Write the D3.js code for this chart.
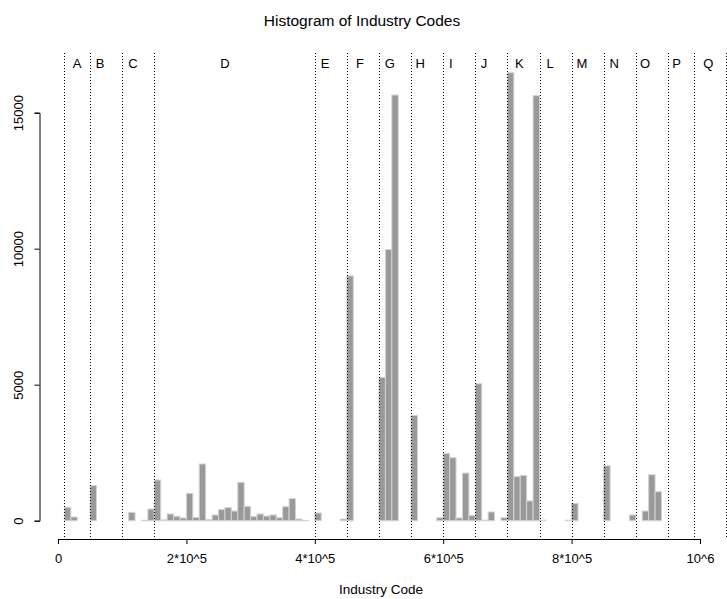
<!DOCTYPE html>
<html>
<head>
<meta charset="utf-8">
<script src="https://d3js.org/d3.v7.min.js"></script>
<style>
  body { margin: 0; background: #fff; }
  svg text { font-family: "Liberation Sans", Arial, Helvetica, sans-serif; fill: #000; }
</style>
</head>
<body>
<div id="chart"></div>
<script>
// Histogram of industry codes, bins of 10000 from 0 to 10^6

var binWidth = 10000;
var counts = [
  0, 490, 135, 0, 0, 1290, 0, 0, 0, 0,
  0, 306, 0, 15, 430, 1495, 30, 245, 160, 100,
  1005, 120, 2085, 40, 210, 405, 480, 355, 1410, 525,
  150, 245, 170, 210, 110, 515, 810, 60, 10, 0,
  285, 0, 0, 0, 60, 9000, 0, 0, 0, 0,
  5270, 9970, 15650, 0, 0, 3870, 0, 0, 0, 110,
  2475, 2315, 100, 1750, 195, 5035, 20, 320, 0, 110,
  16470, 1620, 1665, 725, 15625, 20, 0, 0, 0, 20,
  635, 0, 0, 0, 0, 2020, 0, 0, 0, 210,
  0, 355, 1690, 1065, 0, 0, 0, 0, 0, 0
];

// section boundaries (dotted lines) and letters
var sectionBreaks = [10000, 50000, 100000, 150000, 400000, 450000, 500000, 550000, 600000,
  650000, 700000, 750000, 800000, 850000, 900000, 950000, 990000, 1040000];
var sectionLetters = ["A", "B", "C", "D", "E", "F", "G", "H", "I", "J", "K", "L", "M", "N", "O", "P", "Q"];
var letterPos = [29600, 65400, 116800, 260000, 416000, 470400, 517000, 564000, 611700,
  663600, 718500, 766400, 816000, 866500, 914300, 963700, 1013000];

var xTicks = [0, 200000, 400000, 600000, 800000, 1000000];
var xTickLabels = ["0", "2*10^5", "4*10^5", "6*10^5", "8*10^5", "10^6"];
var yTicks = [0, 5000, 10000, 15000];

var width = 727, height = 599;

var svg = d3.select("#chart").append("svg")
    .attr("width", width)
    .attr("height", height);

var x = d3.scaleLinear().domain([0, 1000000]).range([58, 700]);
var y = d3.scaleLinear().domain([0, 15000]).range([520.7, 112.7]);

var bins = counts.map(function (c, i) { return { x0: i * binWidth, x1: (i + 1) * binWidth, n: c }; });

// bars (zero bins still leave a light baseline from the border)
svg.selectAll(".bar")
    .data(bins)
    .enter()
    .append("rect")
    .attr("class", "bar")
    .attr("x", d => x(d.x0))
    .attr("y", d => y(d.n))
    .attr("width", d => x(d.x1) - x(d.x0))
    .attr("height", d => y(0) - y(d.n))
    .attr("fill", "#999999")
    .attr("stroke", "#d3d3d3")
    .attr("stroke-width", 1);

// dotted section lines
svg.selectAll(".sect")
    .data(sectionBreaks)
    .enter()
    .append("line")
    .attr("class", "sect")
    .attr("x1", d => Math.round(x(d)) + 0.5)
    .attr("x2", d => Math.round(x(d)) + 0.5)
    .attr("y1", 53)
    .attr("y2", 537)
    .attr("stroke", "#000")
    .attr("stroke-width", 1)
    .attr("stroke-dasharray", "1,2");

svg.selectAll(".letter")
    .data(sectionLetters)
    .enter()
    .append("text")
    .attr("class", "letter")
    .attr("x", (d, i) => x(letterPos[i]))
    .attr("y", 68)
    .attr("text-anchor", "middle")
    .attr("font-size", "13px")
    .text(d => d);

// axes
var xAxis = d3.axisBottom(x)
    .tickValues(xTicks)
    .tickFormat((d, i) => xTickLabels[i])
    .tickSizeOuter(0)
    .tickSize(5)
    .tickPadding(10);

var gx = svg.append("g")
    .attr("transform", "translate(0,539)")
    .call(xAxis);
gx.selectAll("text").attr("font-size", "13px").attr("fill", "#000");
gx.selectAll("line, path").attr("stroke", "#000");

var yAxis = d3.axisLeft(y)
    .tickValues(yTicks)
    .tickFormat(d3.format("d"))
    .tickSizeOuter(0)
    .tickSize(5);

var gy = svg.append("g")
    .attr("transform", "translate(39.5,0)")
    .call(yAxis);
gy.selectAll("line, path").attr("stroke", "#000");
gy.selectAll("text")
    .attr("font-size", "13px")
    .attr("fill", "#000")
    .attr("text-anchor", "middle")
    .attr("dy", 0)
    .attr("x", 0)
    .attr("transform", "translate(-17,0) rotate(-90)");

// titles
svg.append("text")
    .attr("x", 362)
    .attr("y", 26)
    .attr("text-anchor", "middle")
    .attr("font-size", "15.5px")
    .text("Histogram of Industry Codes");

svg.append("text")
    .attr("x", 381)
    .attr("y", 594)
    .attr("text-anchor", "middle")
    .attr("font-size", "13.5px")
    .text("Industry Code");
</script>
</body>
</html>
